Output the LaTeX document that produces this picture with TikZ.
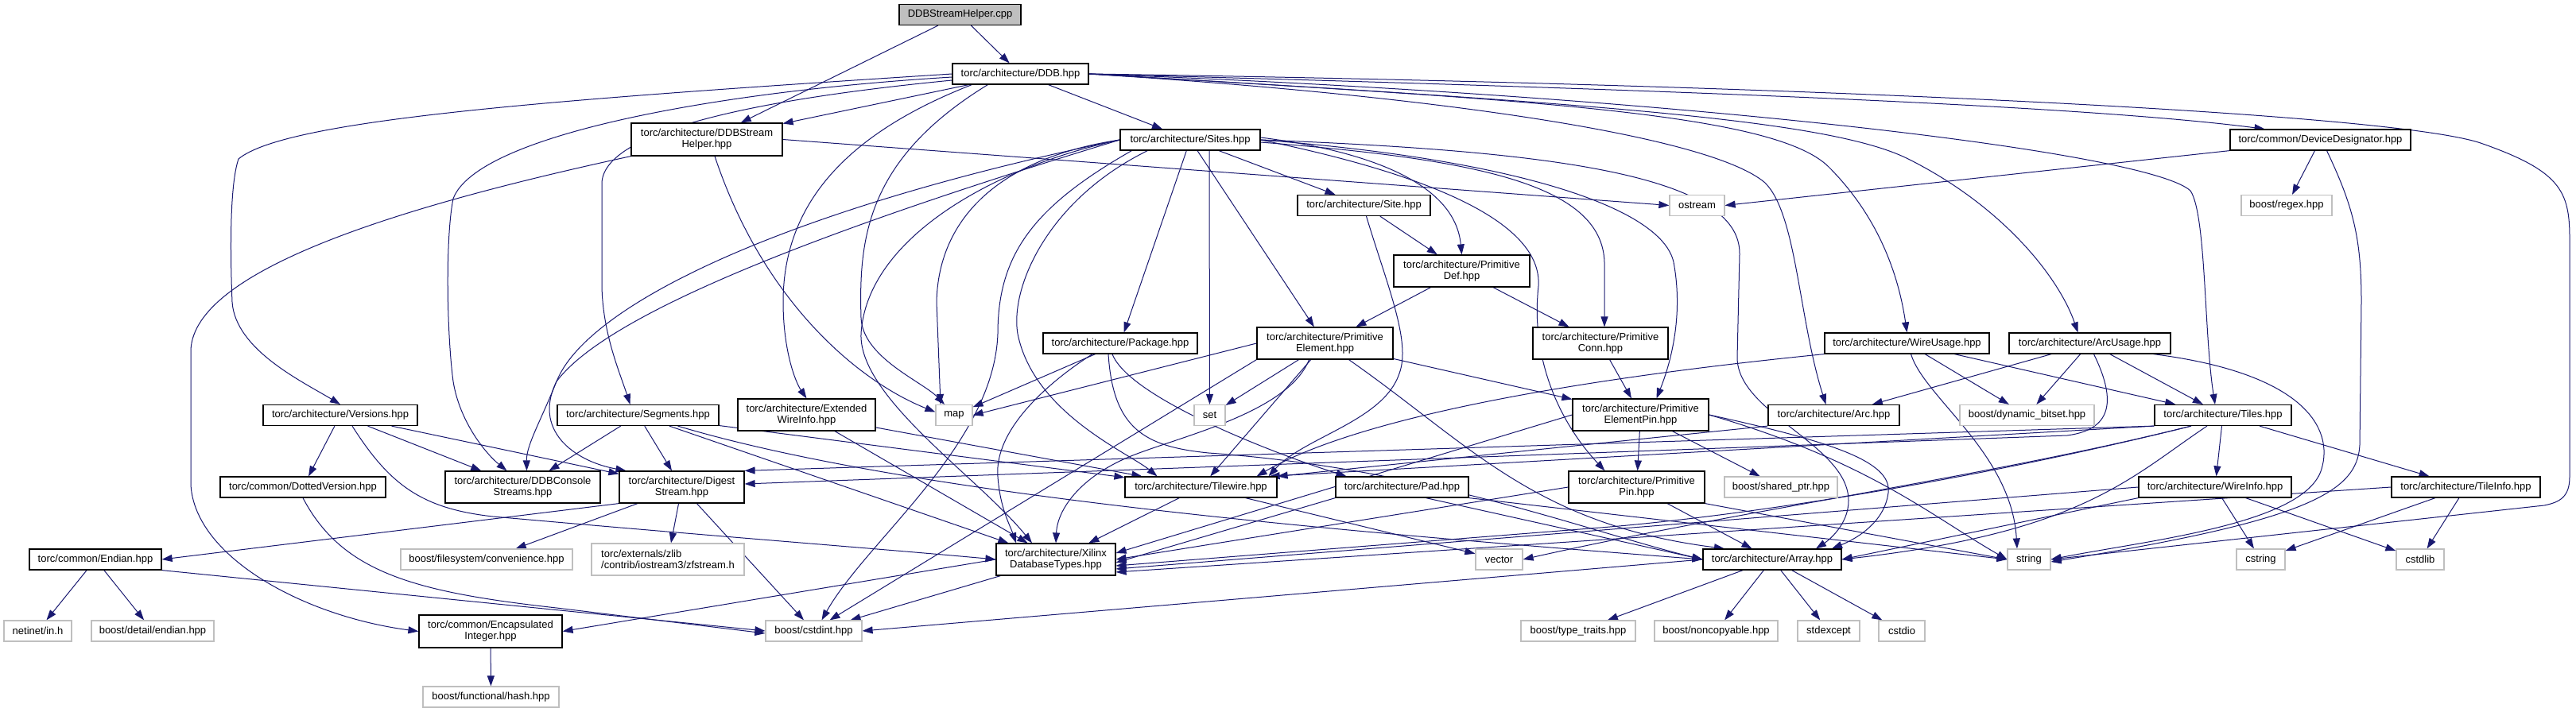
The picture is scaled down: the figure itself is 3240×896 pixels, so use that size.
\documentclass[tikz,border=0pt]{standalone}
\usepackage{fontspec}
\setmainfont{Liberation Sans}
\usetikzlibrary{arrows.meta}
\definecolor{edgeblue}{HTML}{191970}
\definecolor{sysgray}{HTML}{BFBFBF}
\pgfdeclarelayer{bg}
\pgfsetlayers{bg,main}
\begin{document}
\begin{tikzpicture}[x=1pt, y=-1pt,
    hfile/.style={draw=black, line width=1.2pt, fill=white, minimum height=26pt, inner sep=2pt, align=center, font=\fontsize{13}{14}\selectfont},
    sysfile/.style={hfile, draw=sysgray},
    mainfile/.style={hfile, fill=sysgray},
    incl/.style={draw=edgeblue, line width=1pt, -{Triangle[length=13pt,width=9pt]}}]
    \useasboundingbox (0,0) rectangle (3240,896);
    % Wurzel
    \node[mainfile, minimum width=153pt] (root) at (1207.5,18.5) {DDBStreamHelper.cpp};
    % erste Ebene
    \node[hfile, minimum width=171pt] (ddb) at (1283.5,93) {torc/architecture/DDB.hpp};
    \node[hfile, minimum width=190pt, minimum height=41pt] (dsh) at (889,175.5) {torc/architecture/DDBStream\\Helper.hpp};
    \node[hfile, minimum width=176pt] (sites) at (1497,176) {torc/architecture/Sites.hpp};
    \node[hfile, minimum width=227pt] (devdes) at (2918.5,176) {torc/common/DeviceDesignator.hpp};
    \node[hfile, minimum width=167pt] (site) at (1715.5,258.5) {torc/architecture/Site.hpp};
    \node[sysfile, minimum width=69pt] (ostream) at (2134.5,258.5) {ostream};
    \node[sysfile, minimum width=114pt] (regex) at (2876,258.5) {boost/regex.hpp};
    \node[hfile, minimum width=171pt, minimum height=40pt] (primdef) at (1838.5,341) {torc/architecture/Primitive\\Def.hpp};
    % mittlere Ebene
    \node[hfile, minimum width=194pt] (package) at (1409,432) {torc/architecture/Package.hpp};
    \node[hfile, minimum width=171pt, minimum height=40pt] (primelem) at (1666.5,432) {torc/architecture/Primitive\\Element.hpp};
    \node[hfile, minimum width=170pt, minimum height=40pt] (primconn) at (2013,432) {torc/architecture/Primitive\\Conn.hpp};
    \node[hfile, minimum width=207pt] (wireusage) at (2398.5,432) {torc/architecture/WireUsage.hpp};
    \node[hfile, minimum width=203pt] (arcusage) at (2628.5,432) {torc/architecture/ArcUsage.hpp};
    \node[hfile, minimum width=194pt] (versions) at (428,522.5) {torc/architecture/Versions.hpp};
    \node[hfile, minimum width=203pt] (segments) at (802.5,522.5) {torc/architecture/Segments.hpp};
    \node[hfile, minimum width=173pt, minimum height=40pt] (extwire) at (1014.5,522) {torc/architecture/Extended\\WireInfo.hpp};
    \node[sysfile, minimum width=46pt] (map) at (1200,522.5) {map};
    \node[sysfile, minimum width=39pt] (set) at (1521.5,522.5) {set};
    \node[hfile, minimum width=171pt, minimum height=40pt] (primelempin) at (2063.5,522) {torc/architecture/Primitive\\ElementPin.hpp};
    \node[hfile, minimum width=165pt] (arc) at (2306.5,522.5) {torc/architecture/Arc.hpp};
    \node[sysfile, minimum width=169pt] (dynbitset) at (2549.5,522.5) {boost/dynamic\_bitset.hpp};
    \node[hfile, minimum width=172pt] (tiles) at (2796,522.5) {torc/architecture/Tiles.hpp};
    \node[hfile, minimum width=195pt, minimum height=40pt] (consolestreams) at (657.5,613) {torc/architecture/DDBConsole\\Streams.hpp};
    \node[hfile, minimum width=157pt, minimum height=40pt] (digest) at (857.5,613) {torc/architecture/Digest\\Stream.hpp};
    \node[hfile, minimum width=208pt] (dotted) at (381,613) {torc/common/DottedVersion.hpp};
    \node[hfile, minimum width=191pt] (tilewire) at (1510.5,613) {torc/architecture/Tilewire.hpp};
    \node[hfile, minimum width=167pt] (pad) at (1763.5,613) {torc/architecture/Pad.hpp};
    \node[hfile, minimum width=171pt, minimum height=40pt] (primpin) at (2058.5,613) {torc/architecture/Primitive\\Pin.hpp};
    \node[sysfile, minimum width=142pt] (sharedptr) at (2240,613) {boost/shared\_ptr.hpp};
    \node[hfile, minimum width=192pt] (wireinfo) at (2786,613) {torc/architecture/WireInfo.hpp};
    \node[hfile, minimum width=187pt] (tileinfo) at (3101.5,613) {torc/architecture/TileInfo.hpp};
    % untere Ebene
    \node[hfile, minimum width=166pt] (endian) at (120,704) {torc/common/Endian.hpp};
    \node[sysfile, minimum width=216pt] (fsconv) at (612,704) {boost/filesystem/convenience.hpp};
    \node[sysfile, minimum width=192pt, minimum height=40pt, align=left] (zfstream) at (840,704) {torc/externals/zlib\\/contrib/iostream3/zfstream.h};
    \node[hfile, minimum width=150pt, minimum height=40pt] (xilinx) at (1328,704) {torc/architecture/Xilinx\\DatabaseTypes.hpp};
    \node[sysfile, minimum width=59pt] (vector) at (1885.5,704) {vector};
    \node[hfile, minimum width=174pt] (array) at (2229,704) {torc/architecture/Array.hpp};
    \node[sysfile, minimum width=54pt] (string) at (2552,704) {string};
    \node[sysfile, minimum width=61pt] (cstring) at (2843.5,704) {cstring};
    \node[sysfile, minimum width=60pt] (cstdlib) at (3044,704) {cstdlib};
    \node[sysfile, minimum width=85pt] (netinet) at (47.5,794) {netinet/in.h};
    \node[sysfile, minimum width=154pt] (detailendian) at (192,794) {boost/detail/endian.hpp};
    \node[hfile, minimum width=180pt, minimum height=41pt] (encint) at (617,794.5) {torc/common/Encapsulated\\Integer.hpp};
    \node[sysfile, minimum width=121pt] (cstdint) at (1023.5,794) {boost/cstdint.hpp};
    \node[sysfile, minimum width=144pt] (typetraits) at (1985,794) {boost/type\_traits.hpp};
    \node[sysfile, minimum width=155pt] (noncopy) at (2158.5,794) {boost/noncopyable.hpp};
    \node[sysfile, minimum width=78pt] (stdexcept) at (2300,794) {stdexcept};
    \node[sysfile, minimum width=58pt] (cstdio) at (2392,794) {cstdio};
    \node[sysfile, minimum width=171pt] (hash) at (617.5,877) {boost/functional/hash.hpp};

    \begin{pgfonlayer}{bg}
    \fill[white] (0,0) rectangle (3240,896);
    % DDBStreamHelper.cpp
    \draw[incl] (root) -- (dsh);
    \draw[incl] (root) -- (ddb);
    % DDB.hpp
    \draw[incl] (ddb) -- (dsh);
    \draw[incl] (ddb) -- (sites);
    \draw[incl] (ddb.west) .. controls (700,125) and (360,150) .. (300,200) .. controls (288,235) and (290,330) .. (292,380) .. controls (296,440) and (380,480) .. (versions.north);
    \draw[incl] ([yshift=-4pt]ddb.west) .. controls (900,115) and (600,170) .. (570,250) .. controls (560,300) and (562,420) .. (570,480) .. controls (578,530) and (610,570) .. ([xshift=-20pt]consolestreams.north);
    \draw[incl] ([yshift=-8pt]ddb.west) .. controls (950,125) and (760,165) .. (757,230) -- (757,360) .. controls (758,420) and (780,470) .. ([xshift=-10pt]segments.north);
    \draw[incl] ([xshift=25pt]ddb.south west) .. controls (1060,170) and (985,260) .. (985,380) .. controls (985,440) and (1000,480) .. (extwire.north);
    \draw[incl] ([xshift=45pt]ddb.south west) .. controls (1090,200) and (1080,300) .. (1083,400) .. controls (1085,450) and (1160,480) .. ([xshift=-12pt]map.north);
    \draw[incl] (ddb.east) .. controls (1900,125) and (2230,140) .. (2300,210) .. controls (2370,280) and (2390,360) .. (wireusage.north);
    \draw[incl] (ddb.east) .. controls (2000,130) and (2300,150) .. (2400,200) .. controls (2520,260) and (2590,350) .. ([xshift=-15pt]arcusage.north);
    \draw[incl] (ddb.east) .. controls (1800,120) and (2150,170) .. (2220,230) .. controls (2260,270) and (2262,400) .. ([xshift=-10pt]arc.north);
    \draw[incl] (ddb.east) .. controls (2100,120) and (2700,190) .. (2755,240) .. controls (2775,270) and (2772,420) .. ([xshift=-10pt]tiles.north);
    \draw[incl] (ddb.east) .. controls (2000,110) and (2600,130) .. ([xshift=-70pt]devdes.north);
    \draw[incl] (ddb.east) .. controls (2200,105) and (3000,140) .. (3120,180) .. controls (3220,215) and (3232,240) .. (3232,300) -- (3232,600) .. controls (3232,625) and (3220,632) .. (3200,636) -- (string.east);
    % DDBStreamHelper.hpp
    \draw[incl] (dsh.east) -- (ostream.west);
    \draw[incl] ([xshift=10pt]dsh.south) .. controls (960,380) and (1080,480) .. ([yshift=4pt]map.west);
    \draw[incl] (dsh.south west) .. controls (500,260) and (245,340) .. (240,440) -- (240,610) .. controls (245,700) and (380,775) .. (encint.west);
    % Sites.hpp
    \draw[incl] (sites) -- (site);
    \draw[incl] ([yshift=3pt]sites.east) .. controls (1720,190) and (1830,230) .. (primdef.north);
    \draw[incl] (sites) -- (package);
    \draw[incl] (sites) -- (primelem);
    \draw[incl] ([yshift=-3pt]sites.east) .. controls (1850,200) and (2015,230) .. (2018,330) -- ([xshift=5pt]primconn.north);
    \draw[incl] (sites.east) .. controls (1900,200) and (2090,260) .. (2105,330) .. controls (2118,400) and (2100,460) .. ([xshift=20pt]primelempin.north);
    \draw[incl] (sites.east) .. controls (1800,220) and (1940,280) .. (1935,360) .. controls (1925,450) and (1960,530) .. ([xshift=-40pt]primpin.north);
    \draw[incl] (sites.east) .. controls (1950,190) and (2190,220) .. (2188,320) -- (2185,450) .. controls (2185,520) and (2325,560) .. (2325,630) .. controls (2325,660) and (2300,680) .. ([xshift=55pt]array.north);
    \draw[incl] ([xshift=24pt]sites.south) -- (set.north);
    \draw[incl] (sites.west) .. controls (1250,200) and (1180,280) .. (1178,380) -- ([xshift=-17pt]map.north);
    \draw[incl] (sites.west) .. controls (1250,210) and (1090,300) .. (1083,420) .. controls (1080,500) and (1230,600) .. ([xshift=-30pt]xilinx.north);
    \draw[incl] ([xshift=15pt]sites.south west) .. controls (1300,260) and (1255,320) .. (1255,420) .. controls (1250,560) and (1090,680) .. ([xshift=10pt]cstdint.north);
    \draw[incl] ([xshift=35pt]sites.south west) .. controls (1320,250) and (1270,360) .. (1280,420) .. controls (1300,520) and (1420,570) .. ([xshift=-55pt]tilewire.north);
    \draw[incl] (sites.west) .. controls (1000,260) and (740,380) .. (700,480) .. controls (680,530) and (662,560) .. ([xshift=5pt]consolestreams.north);
    \draw[incl] (sites.west) .. controls (1000,300) and (760,400) .. (700,480) .. controls (670,540) and (720,580) .. ([xshift=-70pt]digest.north);
    % Site.hpp, PrimitiveDef.hpp
    \draw[incl] (site) -- (primdef);
    \draw[incl] ([xshift=3pt]site.south) .. controls (1745,360) and (1775,430) .. (1760,470) .. controls (1740,530) and (1640,550) .. ([xshift=85pt]tilewire.north);
    \draw[incl] (primdef) -- (primelem);
    \draw[incl] (primdef) -- (primconn);
    % Package.hpp
    \draw[incl] (package) -- (map);
    \draw[incl] ([xshift=-35pt]package.south) .. controls (1320,480) and (1250,540) .. (1255,600) .. controls (1258,640) and (1270,660) .. ([xshift=-50pt]xilinx.north);
    \draw[incl] ([xshift=-10pt]package.south) .. controls (1420,500) and (1600,570) .. ([xshift=-70pt]pad.north);
    \draw[incl] ([xshift=-15pt]package.south) .. controls (1400,540) and (1440,562) .. (1520,570) .. controls (1800,590) and (2000,670) .. (array.west);
    % PrimitiveElement.hpp
    \draw[incl] (primelem.west) -- (map.east);
    \draw[incl] (primelem) -- (set);
    \draw[incl] (primelem) -- (tilewire);
    \draw[incl] (primelem) -- (primelempin);
    \draw[incl] ([xshift=30pt]primelem.south) .. controls (1850,560) and (1930,660) .. ([xshift=-60pt]array.north);
    \draw[incl] ([xshift=-20pt]primelem.south) .. controls (1620,520) and (1480,550) .. (1420,575) .. controls (1360,600) and (1330,640) .. (xilinx.north);
    \draw[incl] (primelem.south west) -- ([xshift=20pt]cstdint.north);
    \draw[incl] (primconn) -- (primelempin);
    % PrimitiveElementPin.hpp, PrimitivePin.hpp, Pad.hpp
    \draw[incl] (primelempin) -- (primpin);
    \draw[incl] (primelempin) -- (sharedptr);
    \draw[incl] (primelempin.west) -- ([yshift=8pt]xilinx.east);
    \draw[incl] (primelempin.east) .. controls (2300,555) and (2380,580) .. (2375,620) .. controls (2370,660) and (2330,680) .. ([xshift=75pt]array.north);
    \draw[incl] (primelempin.east) .. controls (2350,580) and (2430,650) .. (string.west);
    \draw[incl] (primpin.west) -- (xilinx.east);
    \draw[incl] (primpin) -- (array);
    \draw[incl] (primpin.south east) -- (string.west);
    \draw[incl] (pad.south west) -- ([yshift=-4pt]xilinx.east);
    \draw[incl] ([xshift=30pt]pad.south) -- (array.west);
    \draw[incl] (pad.south east) -- (string.west);
    \draw[incl] (tilewire) -- (xilinx);
    \draw[incl] (tilewire) -- (vector);
    % Versions.hpp, Segments.hpp, ExtendedWireInfo.hpp
    \draw[incl] (versions) -- (dotted);
    \draw[incl] (versions) -- (consolestreams);
    \draw[incl] (versions) -- (digest);
    \draw[incl] ([xshift=15pt]versions.south) .. controls (490,610) and (530,640) .. (620,650) .. controls (900,675) and (1100,690) .. (xilinx.west);
    \draw[incl] (segments) -- (consolestreams);
    \draw[incl] (segments) -- (digest);
    \draw[incl] (segments) -- (xilinx);
    \draw[incl] (segments) -- (tilewire);
    \draw[incl] ([xshift=50pt]segments.south) .. controls (1150,625) and (1700,670) .. (array.west);
    \draw[incl] (extwire) -- (xilinx);
    \draw[incl] (extwire) -- (tilewire);
    % DigestStream.hpp, DottedVersion.hpp, Endian.hpp
    \draw[incl] (digest.south west) -- (endian.east);
    \draw[incl] (digest) -- (fsconv);
    \draw[incl] (digest) -- (zfstream);
    \draw[incl] (digest) -- (cstdint);
    \draw[incl] (dotted.south) .. controls (430,720) and (520,745) .. (700,765) -- ([yshift=-3pt]cstdint.west);
    \draw[incl] (endian) -- (netinet);
    \draw[incl] (endian) -- (detailendian);
    \draw[incl] (endian.south east) -- (cstdint.west);
    % XilinxDatabaseTypes.hpp, EncapsulatedInteger.hpp
    \draw[incl] (xilinx) -- (cstdint);
    \draw[incl] (xilinx.west) -- (encint.east);
    \draw[incl] (encint) -- (hash);
    % Array.hpp
    \draw[incl] (array) -- (typetraits);
    \draw[incl] (array) -- (noncopy);
    \draw[incl] (array) -- (stdexcept);
    \draw[incl] (array) -- (cstdio);
    \draw[incl] (array.west) -- (cstdint.east);
    % WireUsage.hpp, ArcUsage.hpp
    \draw[incl] (wireusage.south west) .. controls (1950,480) and (1700,530) .. ([xshift=70pt]tilewire.north);
    \draw[incl] ([xshift=5pt]wireusage.south) .. controls (2420,500) and (2530,570) .. ([xshift=-15pt]string.north);
    \draw[incl] (wireusage) -- (dynbitset);
    \draw[incl] (wireusage) -- (tiles);
    \draw[incl] (arcusage) -- (arc);
    \draw[incl] (arcusage) -- (dynbitset);
    \draw[incl] (arcusage) -- (tiles);
    \draw[incl] ([xshift=5pt]arcusage.south) .. controls (2660,500) and (2660,540) .. (2600,548) -- ([yshift=4pt]digest.east);
    \draw[incl] ([xshift=80pt]arcusage.south) .. controls (2900,470) and (2935,540) .. (2920,590) .. controls (2900,660) and (2700,680) .. (string.east);
    \draw[incl] (arc.south west) -- (tilewire.north east);
    % Tiles.hpp
    \draw[incl] (tiles) -- (wireinfo);
    \draw[incl] (tiles) -- (tileinfo);
    \draw[incl] (tiles.south west) -- ([xshift=-10pt]tilewire.north east);
    \draw[incl] (tiles.south west) -- (digest.north east);
    \draw[incl] ([xshift=-40pt]tiles.south) .. controls (2500,600) and (2200,640) .. (vector.east);
    \draw[incl] ([xshift=-20pt]tiles.south) .. controls (2680,600) and (2620,670) .. (array.east);
    \draw[incl] ([xshift=-40pt]tiles.south) .. controls (2500,600) and (2200,650) .. (2000,665) -- ([yshift=-8pt]xilinx.east);
    % WireInfo.hpp, TileInfo.hpp
    \draw[incl] (wireinfo.west) -- ([yshift=-12pt]xilinx.east);
    \draw[incl] (wireinfo.south west) -- (array.east);
    \draw[incl] (wireinfo) -- (cstring);
    \draw[incl] (wireinfo) -- (cstdlib);
    \draw[incl] (tileinfo.west) -- ([yshift=-16pt]xilinx.east);
    \draw[incl] (tileinfo) -- (cstring);
    \draw[incl] (tileinfo) -- (cstdlib);
    % DeviceDesignator.hpp
    \draw[incl] (devdes.south west) -- (ostream.east);
    \draw[incl] (devdes) -- (regex);
    \draw[incl] ([xshift=8pt]devdes.south) .. controls (2960,260) and (2970,300) .. (2970,380) -- (2968,560) .. controls (2965,620) and (2900,655) .. ([yshift=-3pt]string.east);
    \end{pgfonlayer}
\end{tikzpicture}
\end{document}
